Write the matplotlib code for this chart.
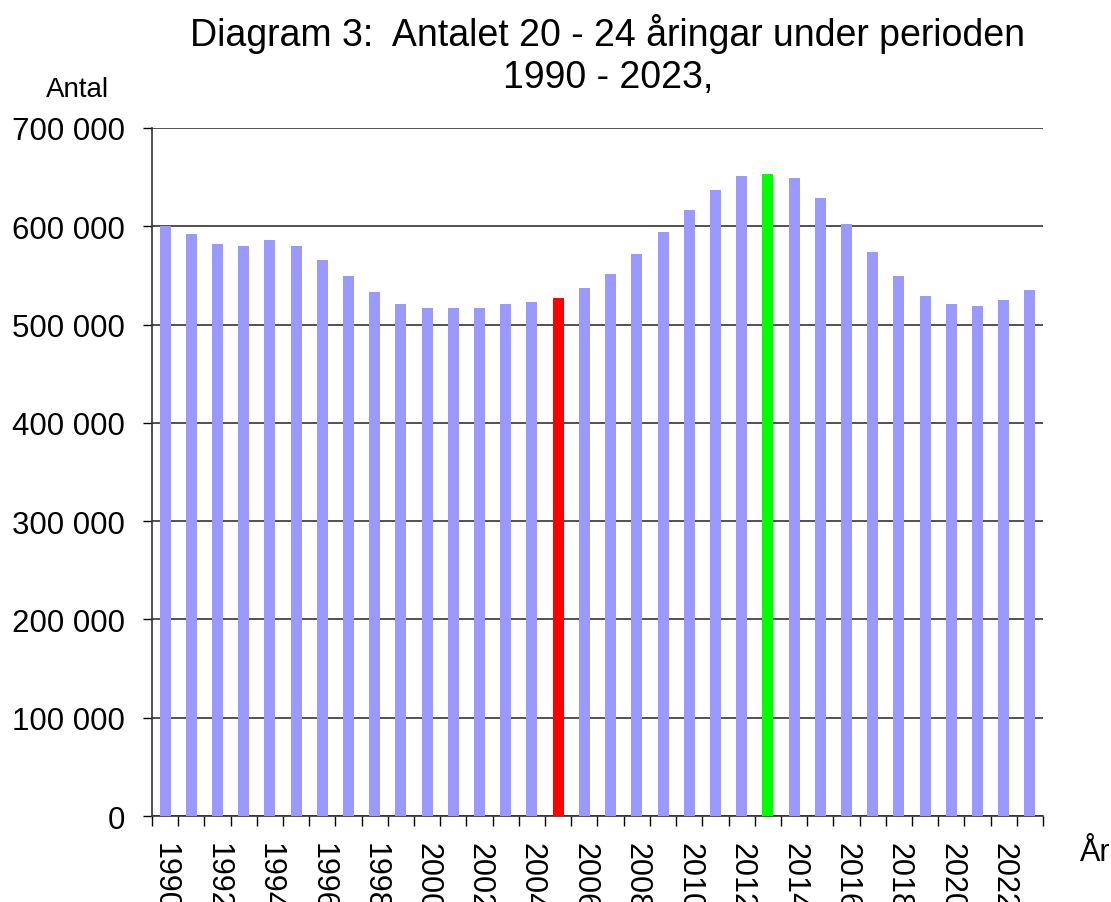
import numpy as np
import matplotlib.pyplot as plt
from matplotlib.ticker import FuncFormatter

plt.rcParams['font.family'] = ['Liberation Sans', 'DejaVu Sans']

# Antalet 20-24 åringar per år
years = list(range(1990, 2024))
antal = [600500, 592000, 582000, 580000, 586000, 580000, 566000, 549500,
         533000, 521000, 517000, 517000, 517000, 521000, 523000, 527000,
         537000, 551500, 572000, 594500, 616500, 637000, 651500, 653500,
         649500, 629000, 602500, 574000, 549500, 529000, 521000, 519000,
         525000, 535000]
farg_standard = '#9999FF'
markerade = {2005: '#FF0000', 2013: '#00FF00'}

colors = [markerade.get(y, farg_standard) for y in years]
x = np.arange(len(years))

fig = plt.figure(figsize=(11.11, 9.03), dpi=100)
ax = fig.add_axes([0.1368, 0.0952, 0.802, 0.762])

ax.bar(x, antal, width=0.42, color=colors, zorder=3)

ax.set_ylim(0, 700000)
ax.set_xlim(-0.5, len(years) - 0.5)
ax.set_yticks(np.arange(0, 700001, 100000))
ax.yaxis.set_major_formatter(FuncFormatter(lambda v, p: f'{int(v):,}'.replace(',', ' ')))
ax.grid(axis='y', color='#333333', lw=1.2, zorder=0)
ax.tick_params(axis='y', labelsize=22.5, length=6.5, width=1, direction='out', pad=13)

# årtal vartannat år, streck mellan staplarna
ax.set_xticks(x[::2])
ax.set_xticklabels([str(y) for y in years[::2]], rotation=270, fontsize=22)
ax.set_xticks(np.arange(-0.5, len(years), 1), minor=True)
ax.tick_params(axis='x', which='major', length=0, pad=19)
ax.tick_params(axis='x', which='minor', length=7, width=1, direction='out')

for s in ['top', 'right']:
    ax.spines[s].set_visible(False)
for s in ['left', 'bottom']:
    ax.spines[s].set_color('#333333')
    ax.spines[s].set_linewidth(1.2)

fig.text(0.547, 0.962, 'Diagram 3:  Antalet 20 - 24 åringar under perioden',
         ha='center', va='center', fontsize=27)
fig.text(0.547, 0.914, '1990 - 2023,', ha='center', va='center', fontsize=27)
fig.text(0.070, 0.900, 'Antal', ha='center', va='center', fontsize=20)
fig.text(0.9856, 0.0554, 'År', ha='center', va='center', fontsize=22)

fig.savefig('out.png', dpi=100)
